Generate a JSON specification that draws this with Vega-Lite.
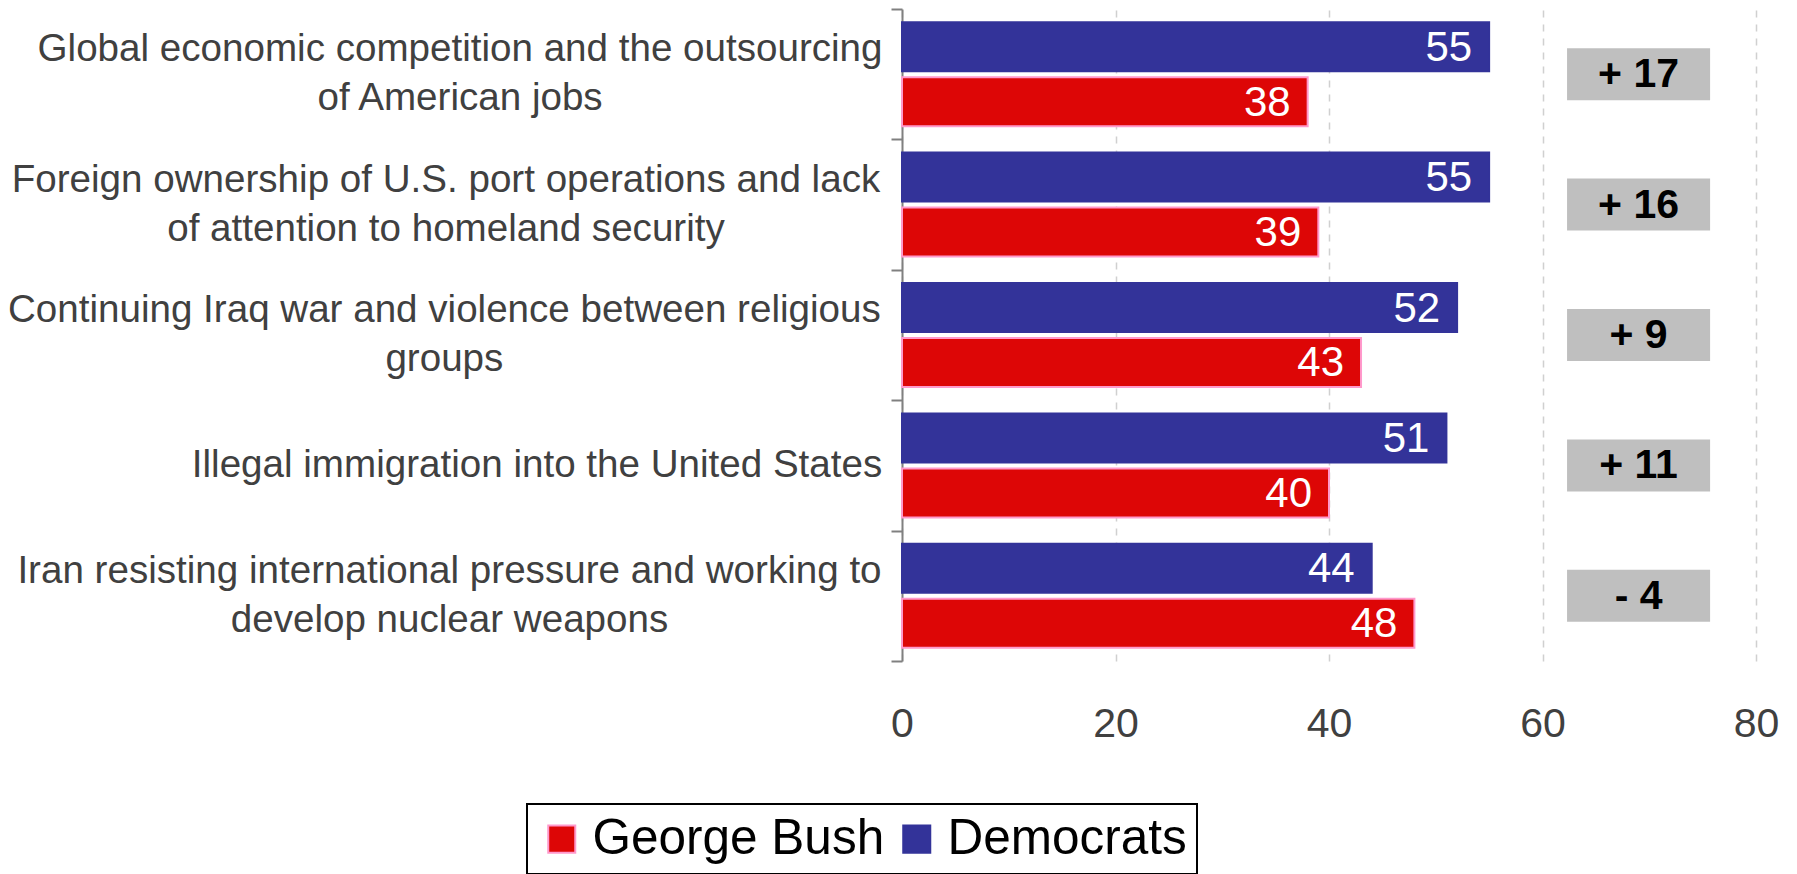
{
  "$schema": "https://vega.github.io/schema/vega-lite/v6.json",
  "width": 854,
  "height": 652,
  "autosize": {"type": "none"},
  "padding": {"left": 902, "top": 9, "right": 41, "bottom": 213},
  "background": "white",
  "config": {
    "view": {"stroke": null},
    "font": "Liberation Sans",
    "text": {"font": "Liberation Sans"}
  },
  "datasets": {
    "bars": [
      {"topic": "Global economic competition and the outsourcing|of American jobs", "party": "Democrats", "value": 55},
      {"topic": "Global economic competition and the outsourcing|of American jobs", "party": "George Bush", "value": 38},
      {"topic": "Foreign ownership of U.S. port operations and lack|of attention to homeland security", "party": "Democrats", "value": 55},
      {"topic": "Foreign ownership of U.S. port operations and lack|of attention to homeland security", "party": "George Bush", "value": 39},
      {"topic": "Continuing Iraq war and violence between religious|groups", "party": "Democrats", "value": 52},
      {"topic": "Continuing Iraq war and violence between religious|groups", "party": "George Bush", "value": 43},
      {"topic": "Illegal immigration into the United States", "party": "Democrats", "value": 51},
      {"topic": "Illegal immigration into the United States", "party": "George Bush", "value": 40},
      {"topic": "Iran resisting international pressure and working to|develop nuclear weapons", "party": "Democrats", "value": 44},
      {"topic": "Iran resisting international pressure and working to|develop nuclear weapons", "party": "George Bush", "value": 48}
    ],
    "diffs": [
      {"topic": "Global economic competition and the outsourcing|of American jobs", "diff": "+ 17"},
      {"topic": "Foreign ownership of U.S. port operations and lack|of attention to homeland security", "diff": "+ 16"},
      {"topic": "Continuing Iraq war and violence between religious|groups", "diff": "+ 9"},
      {"topic": "Illegal immigration into the United States", "diff": "+ 11"},
      {"topic": "Iran resisting international pressure and working to|develop nuclear weapons", "diff": "- 4"}
    ]
  },
  "layer": [
    {
      "data": {"name": "bars"},
      "mark": {"type": "bar", "strokeWidth": 2},
      "encoding": {
        "y": {
          "field": "topic", "type": "nominal",
          "scale": {
            "domain": [
              "Global economic competition and the outsourcing|of American jobs",
              "Foreign ownership of U.S. port operations and lack|of attention to homeland security",
              "Continuing Iraq war and violence between religious|groups",
              "Illegal immigration into the United States",
              "Iran resisting international pressure and working to|develop nuclear weapons"
            ],
            "paddingInner": 0, "paddingOuter": 0
          },
          "axis": {
            "title": null,
            "labels": false,
            "tickSize": 11,
            "tickBand": "extent",
            "tickColor": "#808080",
            "tickWidth": 2,
            "domainColor": "#808080",
            "domainWidth": 2
          }
        },
        "yOffset": {
          "field": "party", "type": "nominal",
          "scale": {"domain": ["Democrats", "George Bush"], "paddingInner": 0.109, "paddingOuter": 0.24}
        },
        "x": {
          "field": "value", "type": "quantitative",
          "scale": {"domain": [0, 80]},
          "axis": {
            "title": null,
            "values": [0, 20, 40, 60, 80],
            "domain": false,
            "ticks": false,
            "labelFlush": false,
            "labelFontSize": 41,
            "labelColor": "#404040",
            "labelPadding": 43,
            "grid": true,
            "gridDash": [7, 7],
            "gridColor": "#D0D0D0",
            "gridWidth": 1.5
          }
        },
        "color": {
          "field": "party", "type": "nominal",
          "scale": {"domain": ["George Bush", "Democrats"], "range": ["#DD0606", "#333399"]},
          "legend": {
            "title": null,
            "orient": "none",
            "direction": "horizontal",
            "legendX": -375,
            "legendY": 795,
            "labelFontSize": 49.5,
            "labelColor": "#000000",
            "labelFont": "Liberation Sans",
            "labelLimit": 1000,
            "symbolType": "square",
            "symbolSize": 730,
            "symbolOpacity": 1,
            "labelOffset": 6,
            "columnPadding": 7,
            "padding": 10,
            "strokeColor": "#000000",
            "fillColor": "#FFFFFF",
            "encode": {
              "legend": {"update": {"strokeWidth": {"value": 2}}},
              "symbols": {"update": {"stroke": {"signal": "datum.value === 'George Bush' ? '#FF99CC' : '#333399'"}, "strokeWidth": {"value": 2}}}
            }
          }
        },
        "stroke": {
          "field": "party", "type": "nominal",
          "scale": {"domain": ["George Bush", "Democrats"], "range": ["#FF99CC", "#333399"]},
          "legend": null
        }
      }
    },
    {
      "data": {"name": "bars"},
      "mark": {"type": "text", "align": "right", "baseline": "middle", "dx": -17, "dy": 1, "fontSize": 42, "color": "#FFFFFF"},
      "encoding": {
        "y": {"field": "topic", "type": "nominal"},
        "yOffset": {"field": "party", "type": "nominal"},
        "x": {"field": "value", "type": "quantitative"},
        "text": {"field": "value", "type": "quantitative"}
      }
    },
    {
      "data": {"name": "diffs"},
      "mark": {"type": "bar", "color": "#BFBFBF", "height": 52},
      "encoding": {
        "y": {"field": "topic", "type": "nominal"},
        "x": {"datum": 62.3, "type": "quantitative"},
        "x2": {"datum": 75.7}
      }
    },
    {
      "data": {"name": "diffs"},
      "mark": {"type": "text", "align": "center", "baseline": "middle", "fontSize": 41, "fontWeight": "bold", "color": "#000000", "dy": 1},
      "encoding": {
        "y": {"field": "topic", "type": "nominal"},
        "x": {"datum": 69, "type": "quantitative"},
        "text": {"field": "diff", "type": "nominal"}
      }
    },
    {
      "data": {"name": "diffs"},
      "transform": [{"filter": "indexof(datum.topic, 'Global') === 0"}],
      "mark": {"type": "text", "align": "center", "baseline": "line-bottom", "lineBreak": "|", "lineHeight": 49, "fontSize": 38.6, "color": "#404040"},
      "encoding": {
        "y": {"field": "topic", "type": "nominal"},
        "x": {"datum": -41.4, "type": "quantitative"},
        "text": {"field": "topic", "type": "nominal"}
      }
    },
    {
      "data": {"name": "diffs"},
      "transform": [{"filter": "indexof(datum.topic, 'Foreign') === 0"}],
      "mark": {"type": "text", "align": "center", "baseline": "line-bottom", "lineBreak": "|", "lineHeight": 49, "fontSize": 38.6, "color": "#404040"},
      "encoding": {
        "y": {"field": "topic", "type": "nominal"},
        "x": {"datum": -42.72, "type": "quantitative"},
        "text": {"field": "topic", "type": "nominal"}
      }
    },
    {
      "data": {"name": "diffs"},
      "transform": [{"filter": "indexof(datum.topic, 'Continuing') === 0"}],
      "mark": {"type": "text", "align": "center", "baseline": "line-bottom", "lineBreak": "|", "lineHeight": 49, "fontSize": 38.6, "color": "#404040"},
      "encoding": {
        "y": {"field": "topic", "type": "nominal"},
        "x": {"datum": -42.87, "type": "quantitative"},
        "text": {"field": "topic", "type": "nominal"}
      }
    },
    {
      "data": {"name": "diffs"},
      "transform": [{"filter": "indexof(datum.topic, 'Illegal') === 0"}],
      "mark": {"type": "text", "align": "center", "baseline": "middle", "fontSize": 38.6, "color": "#404040"},
      "encoding": {
        "y": {"field": "topic", "type": "nominal"},
        "x": {"datum": -34.19, "type": "quantitative"},
        "text": {"field": "topic", "type": "nominal"}
      }
    },
    {
      "data": {"name": "diffs"},
      "transform": [{"filter": "indexof(datum.topic, 'Iran') === 0"}],
      "mark": {"type": "text", "align": "center", "baseline": "line-bottom", "lineBreak": "|", "lineHeight": 49, "fontSize": 38.6, "color": "#404040"},
      "encoding": {
        "y": {"field": "topic", "type": "nominal"},
        "x": {"datum": -42.39, "type": "quantitative"},
        "text": {"field": "topic", "type": "nominal"}
      }
    }
  ]
}
